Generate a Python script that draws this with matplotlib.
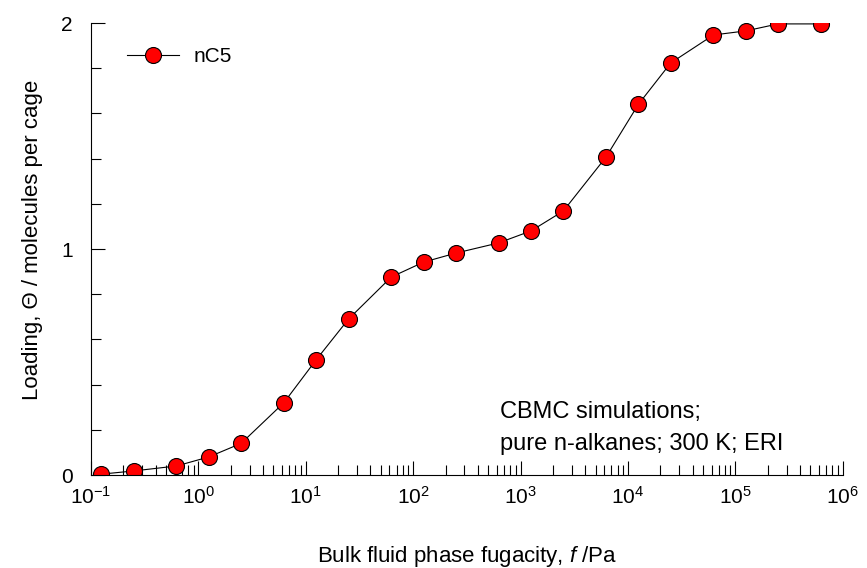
import matplotlib
matplotlib.use('Agg')
import matplotlib.pyplot as plt
import matplotlib.ticker as ticker

# nC5 loading in ERI, CBMC simulation points
fugacity_pa = [0.125, 0.25, 0.625, 1.25, 2.5, 6.25, 12.5, 25, 62.5, 125, 250,
               625, 1250, 2500, 6250, 12500, 25000, 62500, 125000, 250000, 625000]
loading = [0.004, 0.018, 0.040, 0.080, 0.140, 0.320, 0.510, 0.690, 0.876, 0.942,
           0.982, 1.027, 1.080, 1.168, 1.407, 1.640, 1.823, 1.947, 1.965, 1.996, 1.996]

xtick_vals = [1e-1, 1e0, 1e1, 1e2, 1e3, 1e4, 1e5, 1e6]
xtick_lbls = [r'$\mathregular{10^{-1}}$', r'$\mathregular{10^{0}}$', r'$\mathregular{10^{1}}$',
              r'$\mathregular{10^{2}}$', r'$\mathregular{10^{3}}$', r'$\mathregular{10^{4}}$',
              r'$\mathregular{10^{5}}$', r'$\mathregular{10^{6}}$']

plt.rcParams['font.family'] = ['Liberation Sans', 'DejaVu Sans']
plt.rcParams['mathtext.fontset'] = 'custom'
plt.rcParams['mathtext.rm'] = 'Liberation Sans'
plt.rcParams['mathtext.it'] = 'Liberation Sans:italic'

fig = plt.figure(figsize=(8.67, 5.68), dpi=100)
ax = fig.add_axes([0.105, 0.1637, 0.867, 0.7958])

ax.plot(fugacity_pa, loading, color='black', linewidth=0.8,
        marker='o', markersize=11.5, markerfacecolor='red',
        markeredgecolor='black', markeredgewidth=0.8, label='nC5')

ax.set_xscale('log')
ax.set_xlim(1e-1, 1e6)
ax.set_ylim(0, 2)

for side in ('top', 'right'):
    ax.spines[side].set_visible(False)
for side in ('left', 'bottom'):
    ax.spines[side].set_linewidth(0.8)

ax.set_xticks(xtick_vals)
ax.set_xticklabels(xtick_lbls)
ax.xaxis.set_minor_locator(ticker.LogLocator(base=10, subs=range(2, 10), numticks=20))
ax.xaxis.set_minor_formatter(ticker.NullFormatter())
ax.set_yticks([0, 1, 2])
ax.set_yticklabels(['0', '1', '2'])
ax.yaxis.set_minor_locator(ticker.MultipleLocator(0.2))

ax.tick_params(axis='both', which='major', direction='in', length=10, width=0.8,
               labelsize=15, pad=8)
ax.tick_params(axis='both', which='minor', direction='in', length=7, width=0.8)
ax.tick_params(axis='y', which='major', pad=13)

ax.set_xlabel('Bulk fluid phase fugacity, $\\mathit{f}$ /Pa', fontsize=16)
ax.xaxis.set_label_coords(0.5, -0.152)
ax.set_ylabel('Loading, \u0398 / molecules per cage', fontsize=16)
ax.yaxis.set_label_coords(-0.064, 0.52)

ax.text(0.544, 0.104, 'CBMC simulations;\npure n-alkanes; 300 K; ERI',
        transform=ax.transAxes, fontsize=17, ha='left', va='center', linespacing=1.55)

ax.legend(loc='upper left', frameon=False, fontsize=15, handlelength=2.5,
          borderaxespad=0.3, bbox_to_anchor=(0.028, 0.979), handletextpad=0.7)

fig.savefig('out.png', dpi=100)
